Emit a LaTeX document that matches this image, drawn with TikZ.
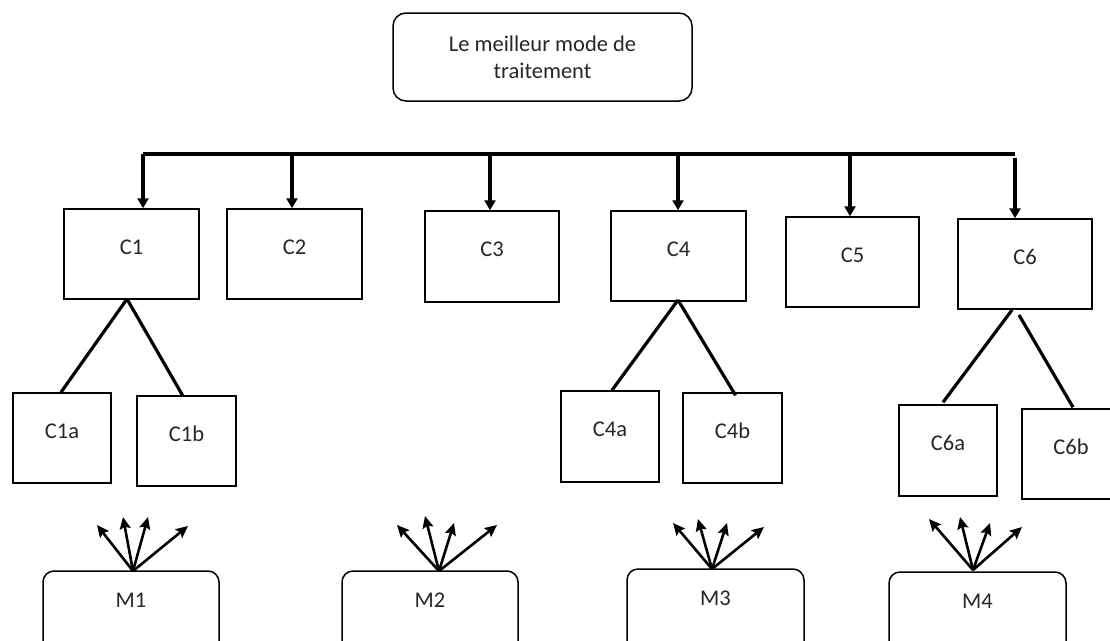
\documentclass[tikz,border=0pt]{standalone}
\usepackage{fontspec}
\setmainfont{Carlito}
\usetikzlibrary{arrows.meta}
\begin{document}
\begin{tikzpicture}[x=1pt,y=-1pt,
  lbl/.style={font=\fontsize{22.5}{27}\selectfont, text=black!85},
  cbox/.style={draw, line width=1.5pt, inner sep=0pt, lbl,
    text height=15pt, text depth=15pt},
  mbox/.style={draw, line width=1.5pt, rounded corners=11pt, inner sep=0pt, lbl,
    text height=14pt, text depth=32pt},
  topbox/.style={draw, line width=1.5pt, rounded corners=13pt, inner sep=0pt, lbl,
    align=center},
  bus/.style={line width=3.5pt},
  drop/.style={line width=3.2pt, -{Triangle[width=11pt,length=10pt]}},
  branch/.style={line width=3.2pt},
  fan/.style={line width=2.6pt, -{Stealth[length=12pt,width=11pt,inset=2pt]}}
]
\useasboundingbox (0,0) rectangle (1110,640);
\clip (0,0) rectangle (1110,640);

% root
\node[topbox, minimum width=299, minimum height=88] (top) at (542.5,57)
  {Le meilleur mode de\\traitement};

% criteria
\node[cbox, minimum width=135, minimum height=90] (C1) at (131.5,254) {C1};
\node[cbox, minimum width=135, minimum height=90] (C2) at (294.5,254) {C2};
\node[cbox, minimum width=134, minimum height=91] (C3) at (492,256.5) {C3};
\node[cbox, minimum width=135, minimum height=90] (C4) at (678.5,256) {C4};
\node[cbox, minimum width=133, minimum height=90] (C5) at (852.5,262) {C5};
\node[cbox, minimum width=134, minimum height=90] (C6) at (1025,264) {C6};

% sub-criteria
\node[cbox, minimum width=98, minimum height=90] (C1a) at (62,438) {C1a};
\node[cbox, minimum width=99, minimum height=90] (C1b) at (186.5,441) {C1b};
\node[cbox, minimum width=98, minimum height=91] (C4a) at (610,436.5) {C4a};
\node[cbox, minimum width=99, minimum height=90] (C4b) at (732.5,438) {C4b};
\node[cbox, minimum width=98, minimum height=91] (C6a) at (948,450.5) {C6a};
\node[cbox, minimum width=98, minimum height=90] (C6b) at (1071,454) {C6b};

% methods
\node[mbox, minimum width=176, minimum height=90] (M1) at (131,616) {M1};
\node[mbox, minimum width=176, minimum height=90] (M2) at (430,616) {M2};
\node[mbox, minimum width=177, minimum height=90] (M3) at (715.5,614) {M3};
\node[mbox, minimum width=177, minimum height=90] (M4) at (977.5,617) {M4};

% distribution bus
\coordinate (b1) at (143,154);
\coordinate (b2) at (292,154);
\coordinate (b3) at (490,154);
\coordinate (b4) at (678,154);
\coordinate (b5) at (850,154);
\coordinate (b6) at (1015,154);
\coordinate (b6s) at (1015,158);
\draw[bus] (b1) -- (b6);
\draw[drop] (b1) -- (b1 |- C1.north);
\draw[drop] (b2) -- (b2 |- C2.north);
\draw[drop] (b3) -- (b3 |- C3.north);
\draw[drop] (b4) -- (b4 |- C4.north);
\draw[drop] (b5) -- (b5 |- C5.north);
\draw[drop] (b6s) -- (b6s |- C6.north);

% branches to sub-criteria
\coordinate (v1) at (127,299);
\coordinate (v4) at (678,300);
\coordinate (v6l) at (1012,310);
\coordinate (v6r) at (1019,315);
\draw[branch] (v1) -- ([xshift=-1pt]C1a.north);
\draw[branch] (v1) -- ([xshift=-4pt]C1b.north);
\draw[branch] (v4) -- ([xshift=2pt]C4a.north);
\draw[branch] (v4) -- ([xshift=3pt,yshift=-3pt]C4b.north);
\draw[branch] (v6l) -- ([xshift=-5pt,yshift=2pt]C6a.north);
\draw[branch] (v6r) -- ([xshift=2pt,yshift=1pt]C6b.north);

% arrow fans above the methods
\coordinate (o1) at (133,571);
\coordinate (o2) at (439,571);
\coordinate (o3) at (712,569);
\coordinate (o4) at (973,570);
\coordinate (t1a) at (97,525);  \coordinate (t1b) at (123,517);
\coordinate (t1c) at (148,517); \coordinate (t1d) at (188,526);
\coordinate (t2a) at (397,525); \coordinate (t2b) at (425,516);
\coordinate (t2c) at (454,523); \coordinate (t2d) at (497,525);
\coordinate (t3a) at (673,523); \coordinate (t3b) at (698,519);
\coordinate (t3c) at (727,523); \coordinate (t3d) at (764,527);
\coordinate (t4a) at (929,519); \coordinate (t4b) at (960,517);
\coordinate (t4c) at (990,523); \coordinate (t4d) at (1022,527);
\foreach \m in {1,2,3,4}{
  \foreach \t in {a,b,c,d}{
    \draw[fan] (o\m) -- (t\m\t);
  }
}
\end{tikzpicture}
\end{document}
